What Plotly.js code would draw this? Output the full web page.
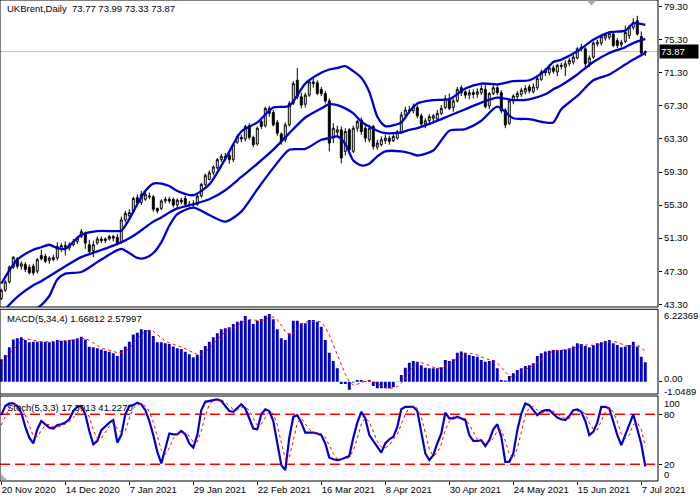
<!DOCTYPE html>
<html><head><meta charset="utf-8">
<script src="https://cdn.plot.ly/plotly-3.0.1.min.js"></script>
<style>html,body{margin:0;padding:0;background:#fff}#chart{width:700px;height:500px}</style>
</head><body><div id="chart"></div>
<script>
// ---- data ----
const dateLabels = ['20 Nov 2020','14 Dec 2020','7 Jan 2021','29 Jan 2021','22 Feb 2021','16 Mar 2021','8 Apr 2021','30 Apr 2021','24 May 2021','15 Jun 2021','7 Jul 2021'];
const labelBars = [0,16,32,48,64,80,96,112,128,144,160];
const priceTicks = [79.3,75.3,71.3,67.3,63.3,59.3,55.3,51.3,47.3,43.3];

const open = [
44.0,45.0,46.0,47.8,48.8,47.9,48.1,47.8,47.9,47.3,
49.2,49.1,48.6,48.7,48.9,50.0,50.2,50.1,50.5,50.9,
51.5,51.9,50.5,49.8,50.7,51.2,51.0,51.2,51.5,51.4,
50.8,53.5,54.0,54.5,56.2,55.6,56.0,56.4,56.3,54.9,
54.9,55.8,56.0,56.0,55.3,55.9,56.1,55.4,55.3,55.4,
56.4,57.8,58.4,59.2,59.8,60.8,61.2,61.3,60.8,62.9,
63.5,63.3,64.9,63.5,62.7,65.4,64.9,67.0,66.5,65.3,
63.9,63.2,65.0,67.6,70.4,68.4,67.5,68.6,70.0,70.1,
69.3,68.8,67.9,63.4,64.1,64.4,61.8,64.4,61.8,64.6,
65.6,64.6,63.2,64.8,62.3,62.6,63.1,63.4,63.1,63.4,
64.0,66.2,66.8,66.7,67.1,66.1,65.1,65.5,65.8,65.7,
66.4,67.1,68.2,67.1,67.9,69.5,69.0,68.6,68.9,68.7,
68.9,69.3,67.3,68.8,69.5,68.9,66.8,65.2,67.9,68.4,
68.7,69.0,69.6,69.0,69.5,70.5,71.6,71.3,71.9,71.4,
72.2,72.0,72.4,72.6,73.1,74.2,74.2,72.5,73.2,74.8,
74.9,75.5,75.6,76.0,75.2,74.7,75.1,75.8,76.8,77.6,
75.7,73.77];
const high = [
45.2,46.2,48.0,49.1,49.0,48.5,48.4,48.1,48.2,48.9,
49.9,49.4,49.1,49.3,50.8,50.7,50.9,50.8,51.2,51.5,
52.4,52.1,51.1,51.0,51.5,51.5,51.4,51.7,51.7,51.8,
53.9,54.6,54.8,56.3,56.6,57.0,57.1,56.8,56.5,55.0,
56.0,56.3,56.3,56.2,56.1,56.2,56.4,55.8,55.9,56.6,
58.0,59.1,59.5,60.1,61.0,61.5,61.6,61.6,62.8,63.9,
63.8,65.0,65.2,63.7,64.8,65.6,67.2,67.3,66.8,65.6,
64.1,65.3,67.9,70.3,71.9,68.9,68.9,70.5,70.6,70.4,
69.6,69.1,68.2,65.2,64.9,64.8,64.6,64.6,64.9,65.6,
65.9,65.0,65.0,65.0,63.2,63.6,63.8,63.7,63.9,64.4,
66.6,67.2,67.3,67.6,67.4,66.4,65.8,66.3,66.3,66.8,
67.4,68.6,68.8,68.2,69.6,69.8,69.2,69.3,69.3,69.4,
69.8,69.8,69.0,70.0,69.8,69.2,67.0,68.1,68.7,69.1,
69.5,69.8,69.9,70.0,70.8,71.7,71.9,72.3,72.2,72.4,
72.5,72.8,73.1,73.5,74.4,74.8,74.4,73.4,75.1,75.3,
75.9,76.1,76.3,76.3,75.5,75.3,77.0,77.1,77.9,78.2,
76.3,73.99];
const low = [
43.8,44.8,45.8,47.6,47.6,47.5,47.2,46.9,46.8,47.0,
48.6,48.3,48.2,48.5,48.6,49.6,49.2,49.8,50.3,50.6,
51.3,50.0,49.3,49.0,50.5,50.7,50.7,51.0,50.9,50.4,
50.6,53.2,53.7,54.3,55.2,55.3,55.8,56.0,54.5,54.3,
54.7,55.5,55.5,55.0,55.0,55.4,55.1,55.0,55.0,55.2,
56.2,57.6,58.3,58.9,59.6,60.5,60.7,60.3,60.5,62.7,
62.9,63.0,63.2,62.3,62.5,64.5,64.7,66.0,64.8,63.7,
62.6,62.9,64.8,67.4,68.1,67.0,67.1,68.4,69.5,68.6,
68.5,67.6,61.8,62.8,63.6,60.35,61.3,61.4,61.6,64.2,
63.8,62.9,62.9,62.0,62.0,62.4,62.7,62.6,62.9,63.2,
63.9,66.0,66.4,66.4,65.8,64.8,64.6,65.0,65.2,65.4,
66.2,66.9,66.8,66.6,67.7,68.5,68.2,68.1,68.2,68.3,
68.6,67.0,66.9,68.6,68.6,66.4,64.6,65.0,67.5,68.0,
68.4,68.7,68.8,68.8,69.2,70.3,70.9,71.0,71.2,70.9,
71.7,70.9,72.1,72.3,72.9,73.9,72.0,72.0,73.0,74.5,
74.6,75.2,75.3,74.4,74.3,74.4,74.9,75.4,76.5,75.8,
73.3,73.33];
const close = [
45.0,46.0,47.8,49.0,47.9,48.2,47.5,47.1,47.1,48.7,
48.8,48.5,48.9,48.95,50.3,50.4,50.4,50.5,50.9,51.3,
52.1,50.7,49.7,50.5,51.2,51.0,51.2,51.5,51.3,50.6,
53.5,54.3,54.4,56.1,55.6,56.6,56.6,56.3,54.8,54.6,
55.8,56.0,55.8,55.3,55.9,55.7,55.4,55.3,55.4,56.4,
57.8,58.9,59.2,59.9,60.8,61.2,61.0,60.8,62.6,63.6,
63.3,64.8,63.5,62.6,64.6,64.8,67.0,66.4,65.0,64.0,
63.0,65.0,67.6,70.0,68.4,67.4,68.6,70.2,70.2,68.8,
68.8,67.9,62.8,64.6,64.4,61.0,64.2,62.0,64.6,65.4,
64.2,63.4,64.6,62.4,62.8,63.2,63.4,63.0,63.6,64.2,
66.2,66.8,66.7,67.2,66.1,65.1,65.5,66.0,66.1,66.4,
67.0,68.2,67.0,67.9,69.3,68.9,68.6,68.9,68.7,69.0,
69.4,67.2,68.8,69.5,68.9,66.7,65.0,67.9,68.5,68.8,
69.2,69.4,69.1,69.6,70.6,71.4,71.3,71.9,71.5,72.2,
72.1,72.4,72.8,73.2,74.2,74.4,72.4,73.1,74.9,75.0,
75.7,75.9,76.1,74.6,74.6,75.0,76.2,76.8,77.4,76.0,
73.7,73.87];

// Bollinger bands read at these bar positions
const bandBars = [0,4,8,10,12,14,16,20,24,28,30,32,34,36,38,40,42,44,48,52,56,60,64,68,72,76,80,82,84,86,88,90,92,94,96,100,102,104,108,112,116,120,124,128,132,136,138,140,144,148,152,156,158,161];
const bbUpper = [45.8,48.7,49.9,50.2,50.5,50.1,50.0,51.7,52.15,52.15,52.2,53.6,55.4,57.0,57.9,57.9,57.6,57.0,56.5,57.8,60.9,64.2,65.3,67.1,67.3,70.0,71.3,71.7,71.9,72.1,71.5,70.7,69.0,66.0,64.85,65.3,66.6,67.6,68.0,68.1,69.4,70.0,69.9,70.3,70.4,71.6,72.6,72.9,73.9,75.3,76.2,76.4,77.3,77.1];
const bbMiddle = [42.2,44.2,45.6,46.1,46.7,47.3,47.9,49.0,49.7,50.4,50.8,51.3,51.9,52.6,53.3,53.8,54.4,54.9,55.4,56.0,57.1,58.7,60.3,62.0,64.0,65.9,67.0,67.5,67.4,67.0,66.4,65.4,64.8,64.3,64.0,64.1,64.4,64.6,65.3,66.1,66.9,67.7,68.3,68.0,68.1,68.7,69.3,69.8,71.1,72.6,73.7,74.4,74.9,75.4];
const bbLower = [39.5,41.0,42.5,43.2,44.3,46.3,47.0,47.2,48.4,49.6,50.0,49.5,48.9,48.9,49.5,50.8,52.8,54.2,55.0,54.1,53.3,54.5,57.2,59.8,62.0,62.1,63.2,63.4,63.6,62.7,60.7,60.1,60.3,61.2,61.8,61.8,61.6,61.3,61.9,64.3,64.5,65.5,67.2,65.8,65.7,65.3,65.3,66.9,68.5,70.4,71.1,72.3,72.9,73.7];

const macdMain = [
1.93,2.30,2.96,3.64,3.73,3.82,3.59,3.39,3.44,3.44,
3.44,3.41,3.39,3.44,3.59,3.53,3.53,3.59,3.64,3.73,
3.87,3.64,3.00,2.96,2.87,2.78,2.67,2.58,2.44,2.21,
2.73,3.02,3.44,4.07,4.22,4.50,4.45,4.45,3.93,3.39,
3.39,3.30,3.24,3.02,2.87,2.81,2.58,2.36,2.10,2.30,
2.73,3.07,3.44,3.82,4.16,4.50,4.59,4.68,4.96,5.16,
5.25,5.65,5.30,4.96,5.25,5.39,5.68,5.82,5.36,4.50,
3.73,3.59,4.16,5.25,5.25,5.02,5.02,5.30,5.30,5.16,
4.73,3.59,2.50,1.79,1.16,-0.19,-0.19,-0.68,-0.07,0.15,
0.15,0.07,0.15,-0.36,-0.56,-0.56,-0.56,-0.56,-0.47,0.02,
0.58,1.21,1.64,1.79,1.73,1.41,1.21,1.16,1.16,1.16,
1.24,1.87,1.79,1.93,2.50,2.59,2.50,2.30,2.21,2.16,
1.87,1.73,1.79,1.87,1.16,0.15,0.10,0.50,0.73,1.01,
1.16,1.36,1.41,1.59,2.21,2.44,2.59,2.67,2.73,2.73,
2.73,2.78,2.87,3.02,3.30,3.24,3.07,2.96,3.16,3.30,
3.39,3.50,3.59,3.30,3.16,2.96,3.02,3.16,3.44,3.02,
2.16,1.66812];
const macdSignal = [
1.72,2.00,2.40,2.71,3.16,3.54,3.70,3.63,3.56,3.47,
3.43,3.43,3.42,3.42,3.46,3.49,3.52,3.56,3.57,3.62,
3.71,3.72,3.56,3.37,3.12,2.90,2.82,2.73,2.62,2.48,
2.49,2.60,2.85,3.32,3.69,4.06,4.31,4.41,4.33,4.06,
3.79,3.50,3.33,3.24,3.11,2.99,2.82,2.66,2.46,2.34,
2.37,2.55,2.89,3.27,3.62,3.98,4.27,4.48,4.68,4.85,
5.01,5.26,5.34,5.29,5.29,5.23,5.32,5.54,5.56,5.34,
4.85,4.30,4.00,4.18,4.56,4.92,5.14,5.15,5.16,5.20,
5.12,4.70,4.00,3.15,2.26,1.32,0.64,0.03,-0.28,-0.20,
-0.11,0.08,0.13,0.00,-0.18,-0.33,-0.51,-0.56,-0.54,-0.39,
-0.11,0.34,0.86,1.31,1.59,1.64,1.54,1.38,1.24,1.17,
1.18,1.36,1.52,1.71,2.02,2.20,2.38,2.47,2.40,2.29,
2.14,1.99,1.89,1.82,1.64,1.24,0.82,0.48,0.37,0.59,
0.85,1.07,1.24,1.38,1.64,1.91,2.21,2.48,2.61,2.68,
2.72,2.74,2.78,2.85,2.99,3.11,3.16,3.14,3.11,3.12,
3.20,3.34,3.45,3.45,3.39,3.25,3.11,3.08,3.15,3.16,
2.95,2.57997];

const stochK = [
79,90,93,93,90,82,65,52,45,62,
72,68,64,63,67,68,70,74,84,89,
90,80,60,44,48,61,66,70,73,46,
55,80,90,91,94,92,85,72,55,35,
21,40,57,56,56,60,56,45,40,55,
85,95,96,97,98,96,90,84,83,88,
92,87,75,63,62,80,86,84,72,47,
19,13,52,77,79,70,58,58,58,57,
55,45,28,26,25,26,28,30,52,70,
83,75,55,48,40,34,45,50,53,65,
86,89,89,89,84,57,33,25,31,45,
57,82,75,75,77,75,73,55,48,48,
49,42,49,62,68,53,23,23,33,61,
81,93,91,85,79,83,85,85,81,76,
74,73,78,85,86,83,72,55,59,70,
89,89,87,72,55,43,55,68,80,62,
44.3,17.3913];
const stochD = [
67,78,87.3,92.0,92.0,88.3,79.0,66.3,54.0,53.0,
59.7,67.3,68.0,65.0,64.7,66.0,68.3,70.7,76.0,82.3,
87.7,86.3,76.7,61.3,50.7,51.0,58.3,65.7,69.7,63.0,
58.0,60.3,75.0,87.0,91.7,92.3,90.3,83.0,70.7,54.0,
37.0,32.0,39.3,51.0,56.3,57.3,57.3,53.7,47.0,46.7,
60.0,78.3,92.0,96.0,97.0,97.0,94.7,90.0,85.7,85.0,
87.7,89.0,84.7,75.0,66.7,68.3,76.0,83.3,80.7,67.7,
46.0,26.3,28.0,47.3,69.3,75.3,69.0,62.0,58.0,57.7,
56.7,52.3,42.7,33.0,26.3,25.7,26.3,28.0,36.7,50.7,
68.3,76.0,71.0,59.3,47.7,40.7,39.7,43.0,49.3,56.0,
68.0,80.0,88.0,89.0,87.3,76.7,58.0,38.3,29.7,33.7,
44.3,61.3,71.3,77.3,75.7,75.7,75.0,67.7,58.7,50.3,
48.3,46.3,46.7,51.0,59.7,61.0,48.0,33.0,26.3,39.0,
58.3,78.3,88.3,89.7,85.0,82.3,82.3,84.3,83.7,80.7,
77.0,74.3,75.0,78.7,83.0,84.7,80.3,70.0,62.0,61.3,
72.7,82.7,88.3,82.7,71.3,56.7,51.0,55.3,67.7,70.0,
62.1,41.227];

const lastClose = 73.87;

// ---- drawing ----
const bars = Array.from({length: close.length}, (_, i) => i);
const BLUE = '#0000cd', RED = '#ff0000';
const FONT = {family: 'Liberation Sans, Arial, sans-serif', size: 9.5, color: '#000'};
const plotH = 481, plotW = 658;
const py = p => 1 - p / plotH;   // pixel row -> paper y

const traces = [
  {type: 'candlestick', x: bars, open: open, high: high, low: low, close: close,
   xaxis: 'x', yaxis: 'y', whiskerwidth: 0,
   increasing: {line: {color: '#000', width: 1}, fillcolor: '#fff'},
   decreasing: {line: {color: '#000', width: 1}, fillcolor: '#000'}},
  {type: 'scatter', mode: 'lines', x: bandBars, y: bbUpper, yaxis: 'y',
   line: {color: BLUE, width: 2.3, shape: 'spline', smoothing: 0.7}},
  {type: 'scatter', mode: 'lines', x: bandBars, y: bbMiddle, yaxis: 'y',
   line: {color: BLUE, width: 2.3, shape: 'spline', smoothing: 0.7}},
  {type: 'scatter', mode: 'lines', x: bandBars, y: bbLower, yaxis: 'y',
   line: {color: BLUE, width: 2.3, shape: 'spline', smoothing: 0.7}},
  {type: 'bar', x: bars, y: macdMain, yaxis: 'y2', width: 0.72,
   marker: {color: BLUE, line: {width: 0}}},
  {type: 'scatter', mode: 'lines', x: bars, y: macdSignal, yaxis: 'y2',
   line: {color: RED, width: 1, dash: 'dot'}},
  {type: 'scatter', mode: 'lines', x: bars, y: stochK, yaxis: 'y3',
   line: {color: BLUE, width: 2.2}},
  {type: 'scatter', mode: 'lines', x: bars, y: stochD, yaxis: 'y3',
   line: {color: RED, width: 1, dash: 'dot'}}
];

const dMain = [(plotH - 307) / plotH, 1];
const dMacd = [(plotH - 394) / plotH, (plotH - 309.3) / plotH];
const dSto = [0, (plotH - 396) / plotH];

const axisCommon = {showgrid: false, zeroline: false, showline: false, fixedrange: true,
  ticks: 'outside', ticklen: 3, tickcolor: '#000', tickfont: FONT, side: 'right', anchor: 'x'};

const rightLabel = (text, pyPix) => ({xref: 'paper', yref: 'paper', x: 1, xshift: 4, y: py(pyPix),
  xanchor: 'left', yanchor: 'middle', showarrow: false, font: FONT, text: text});

const layout = {
  width: 700, height: 500,
  margin: {l: 0, r: 700 - plotW, t: 0, b: 500 - plotH},
  paper_bgcolor: '#fff', plot_bgcolor: '#fff',
  showlegend: false, hovermode: false,
  xaxis: {range: [-0.325, 164.175], anchor: 'y3', showgrid: false, zeroline: false, showline: false,
    tickvals: labelBars, ticktext: dateLabels, ticks: 'outside', ticklen: 3, tickcolor: '#000',
    ticklabelposition: 'outside right', tickfont: FONT, rangeslider: {visible: false}, fixedrange: true},
  yaxis: Object.assign({}, axisCommon, {domain: dMain, range: [42.97, 80.11],
    tickvals: priceTicks, ticktext: priceTicks.map(v => v.toFixed(2))}),
  yaxis2: Object.assign({}, axisCommon, {domain: dMacd, range: [-1.0489, 6.22369],
    tickvals: [0], ticktext: ['']}),
  yaxis3: Object.assign({}, axisCommon, {domain: dSto, range: [-0.04, 101.96],
    tickvals: [80, 20], ticktext: ['80', '20']}),
  shapes: [
    {type: 'line', xref: 'paper', x0: 0, x1: 1, yref: 'y', y0: lastClose, y1: lastClose,
     line: {color: '#c0c0c0', width: 1}, layer: 'below'},
    {type: 'line', xref: 'paper', x0: 0, x1: 1, yref: 'y3', y0: 80, y1: 80,
     line: {color: RED, width: 1.5, dash: '10px,5px'}, layer: 'below'},
    {type: 'line', xref: 'paper', x0: 0, x1: 1, yref: 'y3', y0: 20, y1: 20,
     line: {color: RED, width: 1.5, dash: '10px,5px'}, layer: 'below'},
    {type: 'rect', xref: 'paper', yref: 'paper', x0: 0, x1: 1, y0: dMain[0], y1: dMain[1],
     line: {color: '#000', width: 1}},
    {type: 'rect', xref: 'paper', yref: 'paper', x0: 0, x1: 1, y0: dMacd[0], y1: dMacd[1],
     line: {color: '#000', width: 1}},
    {type: 'rect', xref: 'paper', yref: 'paper', x0: 0, x1: 1, y0: dSto[0], y1: dSto[1],
     line: {color: '#000', width: 1}},
    {type: 'path', xref: 'paper', yref: 'paper',
     path: `M ${587/plotW} ${py(0.5)} L ${596/plotW} ${py(0.5)} L ${591.5/plotW} ${py(5.5)} Z`,
     fillcolor: '#a8a8a8', line: {width: 0}},
    {type: 'path', xref: 'paper', yref: 'paper',
     path: `M ${1/plotW} ${py(474)} L ${1/plotW} ${py(480)} L ${7/plotW} ${py(480)} Z`,
     fillcolor: '#b0b0b0', line: {width: 0}}
  ],
  annotations: [
    {xref: 'paper', yref: 'paper', x: 5/plotW, y: py(9), xanchor: 'left', yanchor: 'middle',
     showarrow: false, font: FONT, text: 'UKBrent,Daily\u00a0\u00a073.77 73.99 73.33 73.87'},
    {xref: 'paper', yref: 'paper', x: 5/plotW, y: py(318), xanchor: 'left', yanchor: 'middle',
     showarrow: false, font: FONT, text: 'MACD(5,34,4) 1.66812 2.57997'},
    {xref: 'paper', yref: 'paper', x: 5/plotW, y: py(407), xanchor: 'left', yanchor: 'middle',
     showarrow: false, font: FONT, text: 'Stoch(5,3,3) 17.3913 41.2270'},
    rightLabel('6.22369', 315),
    rightLabel('0.00', 378.5),
    rightLabel('-1.0489', 391),
    rightLabel('100', 403),
    rightLabel('0', 474),
    {xref: 'paper', yref: 'y', x: 1, xshift: 1, y: lastClose, xanchor: 'left', yanchor: 'middle',
     showarrow: false, bgcolor: '#000', borderpad: 1, width: 36, height: 11, align: 'left',
     font: {family: FONT.family, size: 9.5, color: '#fff'}, text: '73.87'}
  ]
};

Plotly.newPlot('chart', traces, layout, {staticPlot: true, displayModeBar: false});
</script></body></html>
